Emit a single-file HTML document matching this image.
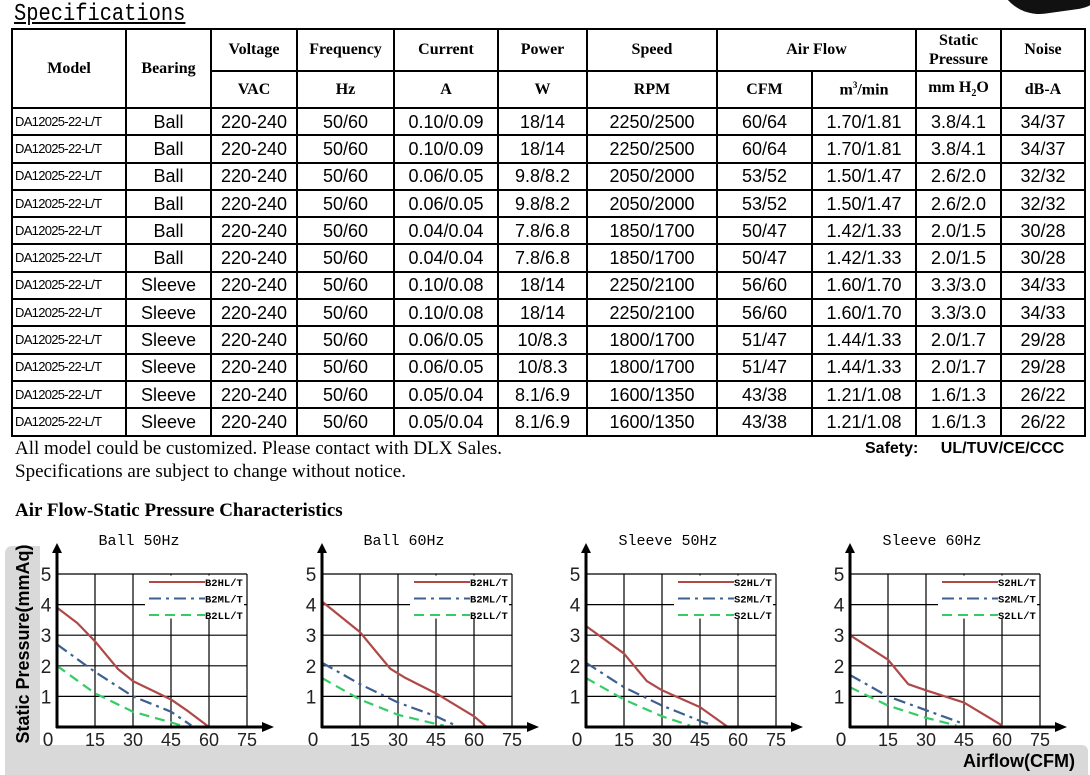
<!DOCTYPE html>
<html><head><meta charset="utf-8"><style>
body{margin:0;width:1090px;height:775px;background:#fff;position:relative;overflow:hidden;font-family:"Liberation Sans",sans-serif}
.abs{position:absolute}
table{position:absolute;left:11px;top:28px;border-collapse:collapse;table-layout:fixed;width:1073px}
td{border:2px solid #000;padding:0;text-align:center;white-space:nowrap;overflow:hidden}
.h td{font-family:"Liberation Serif",serif;font-weight:bold;font-size:16px}
.d td{font-size:18px;height:25.3px;line-height:24px}
.d td.m{font-size:13px;letter-spacing:-0.7px;text-align:left;padding-left:2px}
</style></head><body>
<div class="abs" style="left:14px;top:2px;font-family:'Liberation Mono',monospace;font-size:24px;text-decoration:underline;line-height:26px;transform:scaleX(0.85);transform-origin:left top">Specifications</div>
<div class="abs" style="left:1000px;top:-30px;width:110px;height:42px;background:#111;border-radius:0 0 40px 50px;transform:rotate(-8deg)"></div>
<table id="t">
<colgroup><col style="width:114px"><col style="width:85px"><col style="width:86px"><col style="width:97px"><col style="width:104px"><col style="width:89px"><col style="width:130px"><col style="width:95px"><col style="width:104px"><col style="width:85px"><col style="width:84px"></colgroup>
<tr class="h" style="height:42px"><td rowspan="2">Model</td><td rowspan="2">Bearing</td><td>Voltage</td><td>Frequency</td><td>Current</td><td>Power</td><td>Speed</td><td colspan="2">Air Flow</td><td style="line-height:19px">Static<br>Pressure</td><td>Noise</td></tr>
<tr class="h" style="height:37px"><td>VAC</td><td>Hz</td><td>A</td><td>W</td><td>RPM</td><td>CFM</td><td>m<sup style="font-size:9px">3</sup>/min</td><td>mm H<sub style="font-size:10px">2</sub>O</td><td>dB-A</td></tr>
</table>
<div class="abs" style="left:15px;top:437px;font-family:'Liberation Serif',serif;font-size:19px;line-height:23px">All model could be customized. Please contact with DLX Sales.<br>Specifications are subject to change without notice.</div>
<div class="abs" style="left:865px;top:440px;font-weight:bold;font-size:16px;word-spacing:18px">Safety: UL/TUV/CE/CCC</div>
<div class="abs" style="left:15px;top:500px;font-family:'Liberation Serif',serif;font-weight:bold;font-size:19px">Air Flow-Static Pressure Characteristics</div>
<svg id="c" class="abs" style="left:0;top:0" width="1090" height="775"></svg>
<script>
const rows=[["Ball","0.10/0.09","18/14","2250/2500","60/64","1.70/1.81","3.8/4.1","34/37"],["Ball","0.06/0.05","9.8/8.2","2050/2000","53/52","1.50/1.47","2.6/2.0","32/32"],["Ball","0.04/0.04","7.8/6.8","1850/1700","50/47","1.42/1.33","2.0/1.5","30/28"],["Sleeve","0.10/0.08","18/14","2250/2100","56/60","1.60/1.70","3.3/3.0","34/33"],["Sleeve","0.06/0.05","10/8.3","1800/1700","51/47","1.44/1.33","2.0/1.7","29/28"],["Sleeve","0.05/0.04","8.1/6.9","1600/1350","43/38","1.21/1.08","1.6/1.3","26/22"]];
let h="";rows.forEach(r=>{for(let k=0;k<2;k++)h+=`<tr class="d"><td class="m">DA12025-22-L/T</td><td>${r[0]}</td><td>220-240</td><td>50/60</td><td>${r[1]}</td><td>${r[2]}</td><td>${r[3]}</td><td>${r[4]}</td><td>${r[5]}</td><td>${r[6]}</td><td>${r[7]}</td></tr>`});
document.getElementById('t').insertAdjacentHTML('beforeend',h);
let s=`<path d="M12 546 H40 V745 H1082 a6 6 0 0 1 6 6 V775 H5 V553 a7 7 0 0 1 7-7Z" fill="#d9d9d9"/>
<text transform="translate(29 644) rotate(-90)" text-anchor="middle" font-family="Liberation Sans" font-weight="bold" font-size="18">Static Pressure(mmAq)</text>
<text x="1075" y="767" text-anchor="end" font-family="Liberation Sans" font-weight="bold" font-size="18">Airflow(CFM)</text>`;
const C=[{o:57,t:"Ball 50Hz",p:"B2",d:[[[0,3.9],[8,3.4],[15,2.8],[24,1.9],[30,1.5],[45,0.9],[52,0.5],[60,0]],[[0,2.7],[15,1.8],[30,1.0],[45,0.5],[53,0.05]],[[0,2.0],[15,1.1],[30,0.5],[45,0.15],[49,0.05]]]},
{o:322,t:"Ball 60Hz",p:"B2",d:[[[0,4.1],[15,3.1],[27,1.9],[33,1.6],[45,1.1],[60,0.35],[65,0]],[[0,2.1],[15,1.4],[30,0.8],[45,0.35],[54,0]],[[0,1.6],[15,0.9],[30,0.4],[45,0.1],[48,0.05]]]},
{o:586,t:"Sleeve 50Hz",p:"S2",d:[[[0,3.3],[15,2.4],[24,1.5],[30,1.2],[45,0.65],[56,0]],[[0,2.1],[15,1.3],[30,0.7],[45,0.2],[50,0.05]],[[0,1.6],[15,0.9],[30,0.35],[41,0.05]]]},
{o:850,t:"Sleeve 60Hz",p:"S2",d:[[[0,3.0],[15,2.2],[23,1.4],[30,1.2],[45,0.8],[60,0.05]],[[0,1.7],[15,1.0],[30,0.55],[45,0.1]],[[0,1.3],[15,0.7],[30,0.3],[42,0.05]]]}];
const Y0=727,U=30.6,XU=38/15,col=["#b04848","#3c6090","#33cc66"],da=["","12 5 3 5","10 6"];
C.forEach(c=>{const o=c.o,X=v=>o+v*XU,Y=v=>Y0-v*U;
s+=`<text x="${o+82}" y="545" text-anchor="middle" font-family="Liberation Mono" font-size="15">${c.t}</text>`;
for(let i=1;i<=5;i++)s+=`<line x1="${o}" x2="${X(75)}" y1="${Y(i)}" y2="${Y(i)}" stroke="#000" stroke-width="1.2"/>`;
for(let i=1;i<=5;i++)s+=`<line x1="${X(i*15)}" x2="${X(i*15)}" y1="${Y(5)}" y2="${Y0}" stroke="#000" stroke-width="1.2"/>`;
s+=`<rect x="${o+88}" y="${Y(5)+1.5}" width="99" height="43" fill="#fff"/>`;
for(let k=0;k<3;k++){const ly=582+k*16.5;s+=`<line x1="${o+92}" x2="${o+148}" y1="${ly}" y2="${ly}" stroke="${col[k]}" stroke-width="2" stroke-dasharray="${da[k]}"/><text x="${o+148}" y="${ly+4}" font-family="Liberation Mono" font-weight="bold" font-size="10.5">${c.p}${["H","M","L"][k]}L/T</text>`;
s+=`<path d="M${c.d[k].map(p=>X(p[0])+' '+Y(p[1])).join(' L')}" fill="none" stroke="${col[k]}" stroke-width="2.2" stroke-dasharray="${da[k]}" stroke-linejoin="round"/>`;}
s+=`<line x1="${o}" x2="${o}" y1="${Y0+1}" y2="552" stroke="#000" stroke-width="3"/><path d="M${o-5} 553 L${o} 543 L${o+5} 553Z"/>`;
s+=`<line x1="${o-1}" x2="${o+206}" y1="${Y0}" y2="${Y0}" stroke="#000" stroke-width="3"/><path d="M${o+205} ${Y0-5} L${o+217} ${Y0} L${o+205} ${Y0+5}Z"/>`;
for(let i=1;i<=5;i++)s+=`<text x="${o-11}" y="${Y(i)+7}" text-anchor="middle" font-size="19" font-family="Liberation Sans" fill="#222">${i}</text>`;
s+=`<text x="${o-9}" y="746" text-anchor="middle" font-size="19" font-family="Liberation Sans" fill="#222">0</text>`;
for(let i=1;i<=5;i++)s+=`<text x="${X(i*15)}" y="746" text-anchor="middle" font-size="18" font-family="Liberation Sans" fill="#222">${i*15}</text>`;
});
document.getElementById('c').innerHTML=s;
</script>
</body></html>
